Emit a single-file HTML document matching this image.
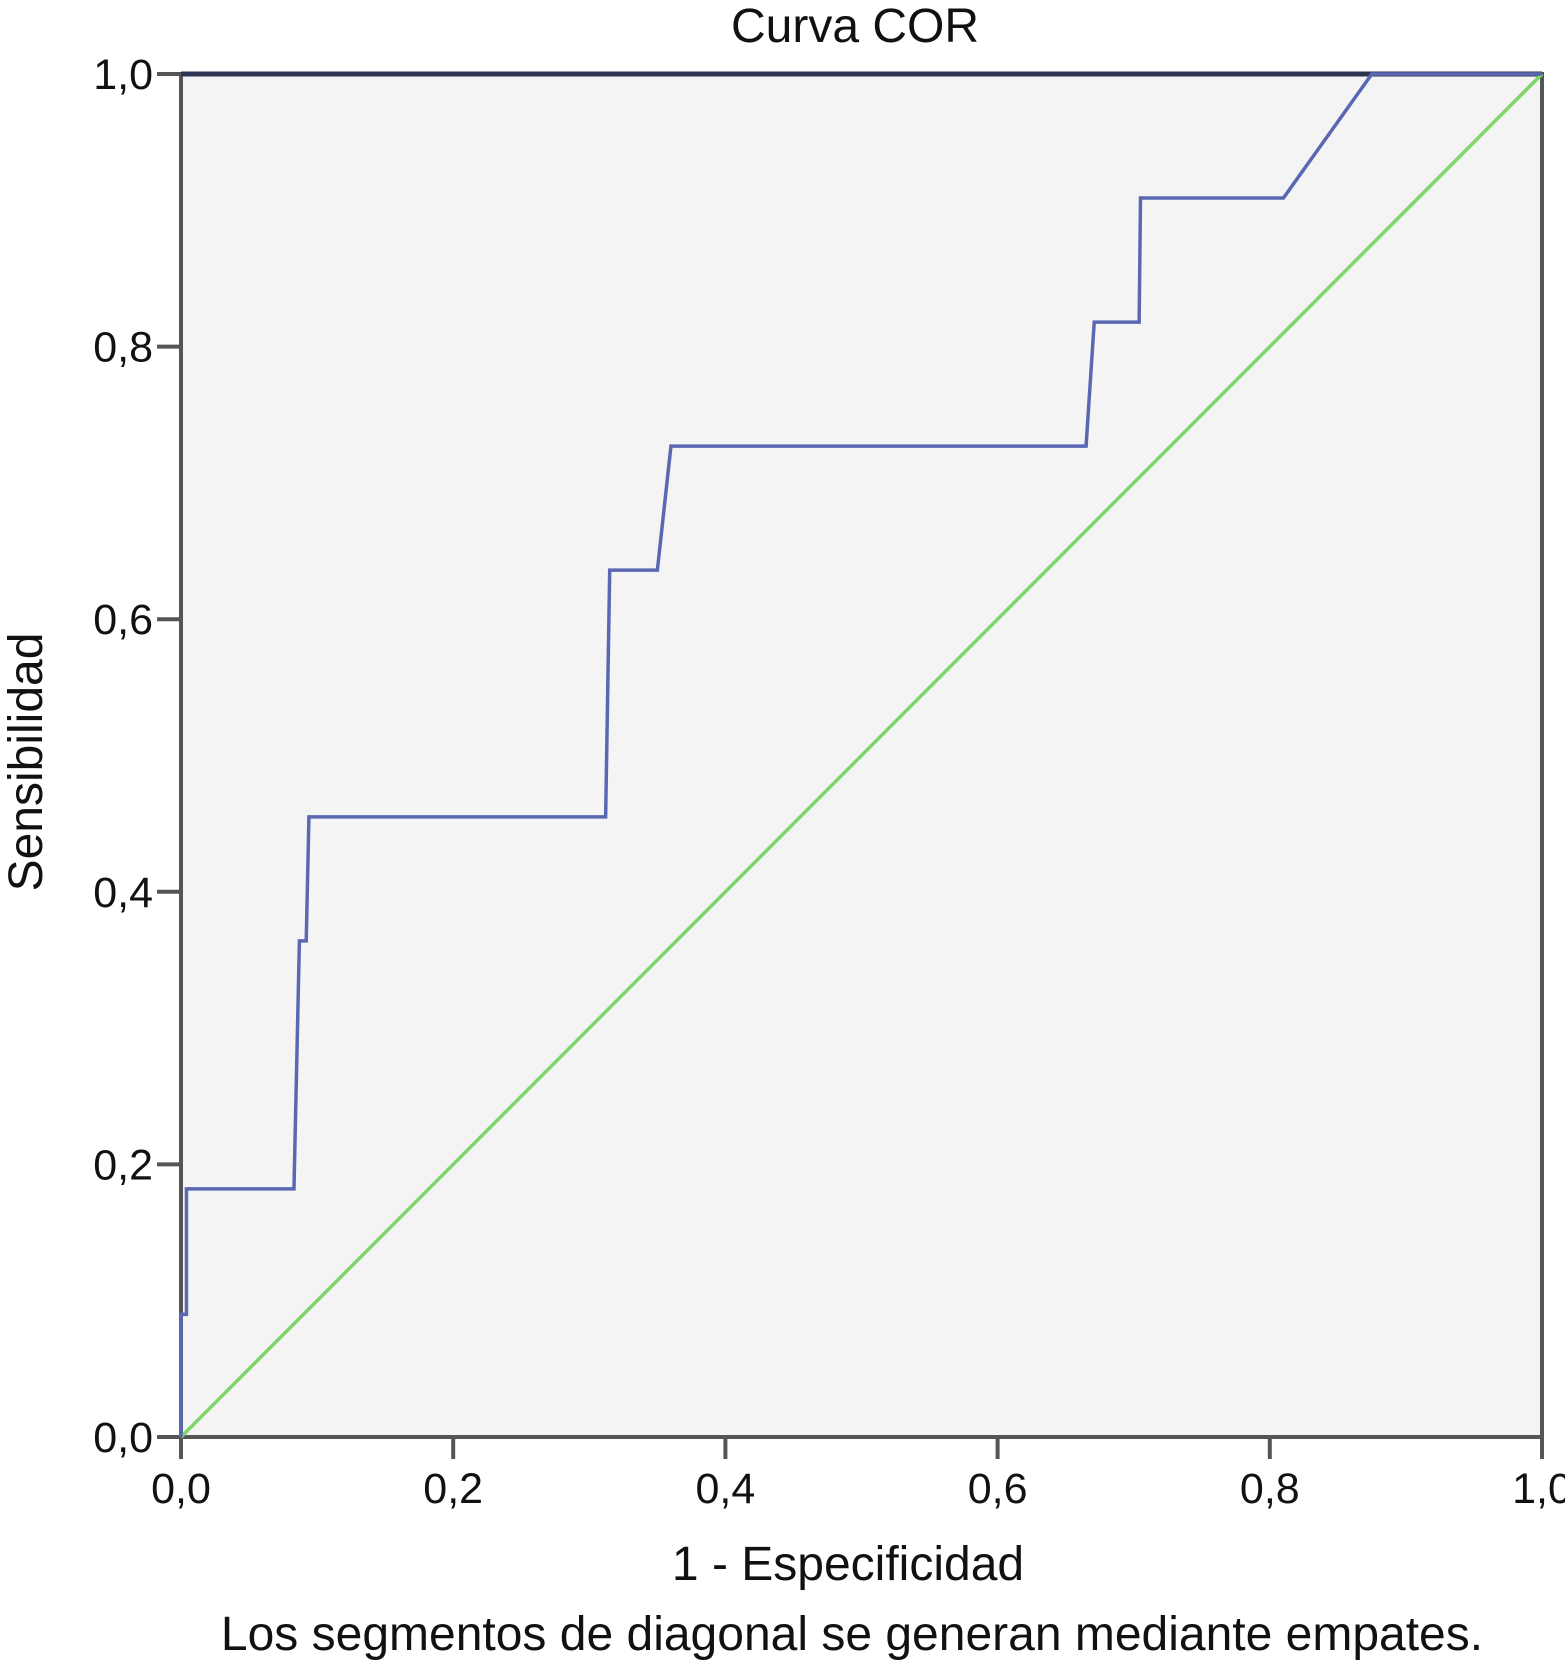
<!DOCTYPE html>
<html><head><meta charset="utf-8"><style>
body{margin:0;background:#fff;}
svg text{font-family:"Liberation Sans",Arial,sans-serif;fill:#111;}
</style></head><body>
<svg width="1565" height="1673" viewBox="0 0 1565 1673" xmlns="http://www.w3.org/2000/svg">
<text x="855" y="42" font-size="48" text-anchor="middle">Curva COR</text>
<g id="plot"></g>
<text x="848" y="1580" font-size="48" text-anchor="middle">1 - Especificidad</text>
<text x="852" y="1650" font-size="48" text-anchor="middle">Los segmentos de diagonal se generan mediante empates.</text>
<text transform="translate(42,762) rotate(-90)" font-size="48" text-anchor="middle">Sensibilidad</text>
</svg>
<script>
const xTicks=[0,0.2,0.4,0.6,0.8,1.0];
const yTicks=[0,0.2,0.4,0.6,0.8,1.0];
const tickLabels=["0,0","0,2","0,4","0,6","0,8","1,0"];
const rocX=[0,0,0.004,0.004,0.083,0.087,0.092,0.094,0.312,0.315,0.35,0.36,0.665,0.671,0.704,0.705,0.81,0.875,1];
const rocY=[0,0.09,0.09,0.182,0.182,0.364,0.364,0.455,0.455,0.636,0.636,0.727,0.727,0.818,0.818,0.909,0.909,1,1];
const refX=[0,1];
const refY=[0,1];
const L=181,R=1542,T=74,B=1437;
const sx=v=>L+v*(R-L), sy=v=>B-v*(B-T);
const NS="http://www.w3.org/2000/svg";
const plotG=document.getElementById('plot');
function mk(t,a){const e=document.createElementNS(NS,t);for(const k in a)e.setAttribute(k,a[k]);plotG.appendChild(e);return e;}
const bg=mk('rect',{x:L,y:T,width:R-L,height:B-T,fill:'#f4f4f4',stroke:'#555','stroke-width':4});


const topBorder=mk('line',{x1:L,y1:T,x2:R,y2:T,stroke:'#2d3350','stroke-width':5});


xTicks.forEach((v,i)=>{
 const t=mk('line',{x1:sx(v),y1:B,x2:sx(v),y2:B+22,stroke:'#555','stroke-width':4});
 
 
 const tx=mk('text',{x:sx(v),y:B+66,'font-size':43,'text-anchor':'middle'});
 tx.textContent=tickLabels[i];
 
 
});
yTicks.forEach((v,i)=>{
 const t=mk('line',{x1:L-24,y1:sy(v),x2:L,y2:sy(v),stroke:'#555','stroke-width':4});
 
 
 const tx=mk('text',{x:L-28,y:sy(v)+15,'font-size':43,'text-anchor':'end'});
 tx.textContent=tickLabels[i];
 
 
});
const ref=mk('polyline',{points:refX.map((x,i)=>sx(x)+','+sy(refY[i])).join(' '),fill:'none',stroke:'#7fd46c','stroke-width':3.5});


const roc=mk('polyline',{points:rocX.map((x,i)=>sx(x)+','+sy(rocY[i])).join(' '),fill:'none',stroke:'#5a68b3','stroke-width':3.5});


</script>
</body></html>
